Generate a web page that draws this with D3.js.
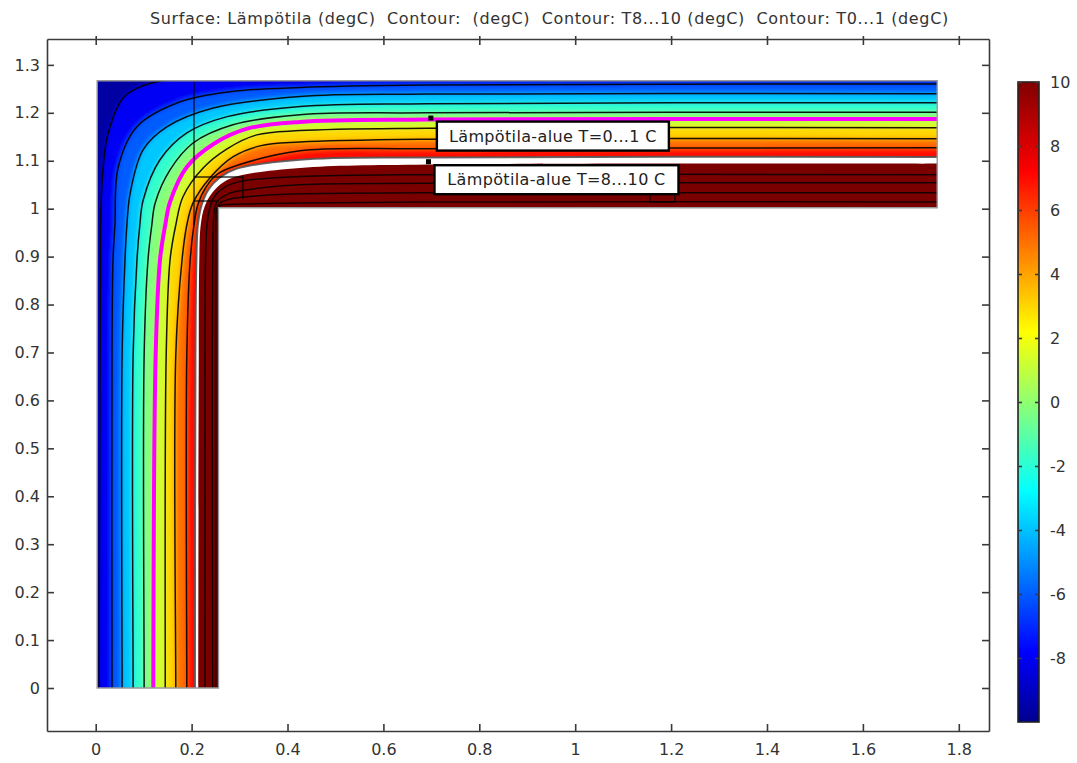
<!DOCTYPE html>
<html>
<head>
<meta charset="utf-8">
<script src="https://cdnjs.cloudflare.com/ajax/libs/d3/7.8.5/d3.min.js"></script>
<style>
body { margin: 0; background: #fff; }
text { font-family: "DejaVu Sans", sans-serif; fill: #333; }
.tick text { font-size: 16px; }
.axis path, .axis line { stroke: #3a3a3a; stroke-width: 1.6; }
</style>
</head>
<body>
<script>
var titleText = "Surface: Lämpötila (degC)  Contour:  (degC)  Contour: T8...10 (degC)  Contour: T0...1 (degC)";

var xTicks = [0, 0.2, 0.4, 0.6, 0.8, 1, 1.2, 1.4, 1.6, 1.8];
var yTicks = [0, 0.1, 0.2, 0.3, 0.4, 0.5, 0.6, 0.7, 0.8, 0.9, 1, 1.1, 1.2, 1.3];
var colorTicks = [-8, -6, -4, -2, 0, 2, 4, 6, 8, 10];

// colour table of the temperature bar
var jetTemps = [-10, -7.8, -2.8, 2.2, 7.2, 10];
var jetColors = ["#00008f", "#0000ff", "#00ffff", "#ffff00", "#ff0000", "#800000"];

// isotherm levels, outer (cold) side to inner (warm) side
var isoLevels = [-9, -7, -5, -2.8, -0.8, 0.5, 2, 4, 6, 8, 10, 12, 14, 16, 18];

// isotherms, one row per level
var isoX = [
  [.007,.009,.010,.010,.015,.026,.057,.092,.140,.426,1.755],
  [.034,.034,.036,.040,.047,.086,.176,.280,.426,.691,1.755],
  [.055,.055,.061,.065,.072,.099,.149,.245,.426,.691,1.755],
  [.078,.078,.086,.092,.099,.134,.190,.274,.426,.691,1.755],
  [.101,.101,.109,.117,.124,.155,.203,.286,.426,.691,1.755],
  [.120,.125,.134,.145,.155,.190,.249,.316,.426,.691,1.755],
  [.145,.147,.155,.167,.182,.224,.274,.336,.426,.691,1.755],
  [.167,.167,.180,.190,.203,.238,.286,.343,.426,.691,1.755],
  [.190,.190,.197,.205,.213,.230,.255,.297,.426,.691,1.755],
  [.207,.208,.210,.213,.221,.236,.259,.293,.426,.691,1.755],
  [.214,.215,.216,.219,.227,.243,.268,.301,.426,.691,1.755],
  [.228,.228,.229,.232,.238,.247,.271,.307,.426,.691,1.755],
  [.244,.243,.244,.245,.247,.253,.276,.311,.426,.691,1.755],
  [.250,.250,.250,.250,.251,.257,.280,.316,.426,.691,1.755],
  [.254,.254,.254,.254,.254,.259,.284,.320,.426,.691,1.755]
];
var isoY = [
  [0,.695,.893,.966,1.081,1.158,1.231,1.254,1.267,1.269,1.269],
  [0,.695,.893,.966,1.087,1.171,1.223,1.244,1.253,1.258,1.260],
  [0,.695,.893,.966,1.033,1.123,1.171,1.210,1.234,1.239,1.240],
  [0,.695,.893,.966,1.018,1.102,1.158,1.192,1.213,1.219,1.221],
  [0,.695,.893,.966,1.012,1.081,1.137,1.175,1.196,1.200,1.201],
  [0,.695,.893,.966,1.014,1.087,1.137,1.167,1.181,1.186,1.187],
  [0,.695,.893,.966,1.025,1.085,1.125,1.154,1.163,1.168,1.169],
  [0,.695,.893,.966,1.012,1.064,1.108,1.131,1.139,1.145,1.146],
  [0,.695,.893,.966,1.008,1.045,1.073,1.091,1.121,1.125,1.127],
  [0,.695,.893,.966,1.008,1.041,1.065,1.083,1.102,1.107,1.108],
  [0,.695,.893,.966,1.004,1.033,1.056,1.069,1.085,1.092,1.094],
  [0,.695,.893,.966,1.002,1.025,1.046,1.058,1.067,1.071,1.071],
  [0,.695,.893,.966,.993,1.014,1.031,1.039,1.050,1.053,1.054],
  [0,.695,.893,.966,.993,1.010,1.020,1.025,1.031,1.033,1.033],
  [0,.695,.893,.966,.993,1.006,1.009,1.010,1.012,1.014,1.014]
];

// L shaped domain
var domainX = [.003, 1.755, 1.755, .256, .256, .003];
var domainY = [1.267, 1.267, 1.002, 1.002, 0, 0];

// thin subdomain lines
var boundaryX = [[.205,.205], [.205,.307,.307], [.205,.256], [1.156,1.156,1.208,1.208]];
var boundaryY = [[1.267,.966], [1.066,1.066,1.020], [1.016,1.016], [1.033,1.014,1.014,1.033]];

var labelText = ["Lämpötila-alue T=0...1 C", "Lämpötila-alue T=8...10 C"];
var labelX = [.699, .694];
var labelY = [1.189, 1.098];

var W = 1077, H = 763;
var frame = {left: 47, right: 989, top: 39, bottom: 731};

var svg = d3.select("body").append("svg").attr("width", W).attr("height", H);

var x = d3.scaleLinear().domain([-0.1016, 1.863]).range([frame.left, frame.right]);
var y = d3.scaleLinear().domain([-0.0897, 1.354]).range([frame.bottom, frame.top]);
var jet = d3.scaleLinear().domain(jetTemps).range(jetColors).clamp(true);

var defs = svg.append("defs");

defs.append("clipPath").attr("id", "shape")
  .append("polygon")
  .attr("points", d3.zip(domainX, domainY).map(function(d) { return x(d[0]) + "," + y(d[1]); }).join(" "));

function blurFilter(id, dev) {
  defs.append("filter").attr("id", id)
    .attr("filterUnits", "userSpaceOnUse")
    .attr("x", 0).attr("y", 0).attr("width", W).attr("height", H)
    .append("feGaussianBlur").attr("stdDeviation", dev);
}
blurFilter("soft", 2.6);
blurFilter("lineSoft", 0.5);

var contourLine = d3.line()
  .x(function(d) { return x(d[0]); })
  .y(function(d) { return y(d[1]); })
  .curve(d3.curveCatmullRom.alpha(0.5));

// run each isotherm a bit past the domain so that the clip cuts it
var isotherms = isoLevels.map(function(t, i) {
  var pts = d3.zip(isoX[i], isoY[i]);
  var last = pts[pts.length - 1];
  return {t: t, pts: [[pts[0][0], -0.1]].concat(pts, [[last[0] + 0.1, last[1]]])};
});

function regionPath(c) {
  return contourLine(c.pts) + "L" + x(1.95) + "," + y(-0.1) + "Z";
}

var field = svg.append("g").attr("clip-path", "url(#shape)");

// colour bands, blurred together into the smooth surface
var bands = field.append("g").attr("filter", "url(#soft)");
bands.append("rect").attr("width", W).attr("height", H).attr("fill", jet(-9.6));
bands.selectAll("path")
  .data(isotherms.slice(0, 9))
  .enter().append("path")
  .attr("d", regionPath)
  .attr("fill", function(d, i) { return jet((d.t + isoLevels[i + 1]) / 2); });

// T=8...10 stays white, above that the scale is saturated
field.append("path").attr("d", regionPath(isotherms[9])).attr("fill", "#fff");
field.append("path").attr("d", regionPath(isotherms[10])).attr("fill", "#7a0000");

var lines = field.append("g").attr("fill", "none").attr("filter", "url(#lineSoft)");

lines.selectAll("path.iso")
  .data(isotherms.filter(function(d) { return d.t != 0.5 && d.t != 10; }))
  .enter().append("path")
  .attr("class", "iso")
  .attr("d", function(d) { return contourLine(d.pts); })
  .attr("stroke", function(d) { return d.t == 8 ? "#555" : "#000"; })
  .attr("stroke-width", function(d) { return d.t == 8 ? 2 : 1.5; })
  .attr("stroke-opacity", function(d) { return d.t > 8 ? 0.8 : 0.9; });

lines.append("path")
  .attr("d", contourLine(isotherms[5].pts))
  .attr("stroke", "#ff00ff")
  .attr("stroke-width", 4);

boundaryX.forEach(function(bx, i) {
  lines.append("path")
    .attr("d", d3.line().x(function(d) { return x(d[0]); }).y(function(d) { return y(d[1]); })(d3.zip(bx, boundaryY[i])))
    .attr("stroke", "#000")
    .attr("stroke-opacity", 0.8)
    .attr("stroke-width", 1.4);
});

// outline of the domain
svg.append("polygon")
  .attr("points", d3.zip(domainX, domainY).map(function(d) { return x(d[0]) + "," + y(d[1]); }).join(" "))
  .attr("fill", "none")
  .attr("stroke", "#999")
  .attr("stroke-width", 1.4);

// annotation boxes
var labelW = [232, 244], labelOffX = [6, 6], labelOffY = [3.5, 3.5], labelH = 29;
labelText.forEach(function(t, i) {
  var px = x(labelX[i]), py = y(labelY[i]);
  svg.append("rect").attr("x", px - 2.5).attr("y", py - 2.5).attr("width", 5).attr("height", 5).attr("fill", "#000");
  svg.append("rect")
    .attr("x", px + labelOffX[i]).attr("y", py + labelOffY[i])
    .attr("width", labelW[i]).attr("height", labelH)
    .attr("fill", "#fff").attr("stroke", "#000").attr("stroke-width", 2.4);
  svg.append("text")
    .attr("x", px + labelOffX[i] + labelW[i] / 2).attr("y", py + labelOffY[i] + 20)
    .attr("text-anchor", "middle")
    .style("font-size", "16px")
    .style("letter-spacing", "0.35px")
    .style("fill", "#222")
    .text(t);
});

// axes, ticks point inwards on all four sides
var tickLen = 7;
svg.append("g").attr("class", "axis")
  .attr("transform", "translate(0," + frame.bottom + ")")
  .call(d3.axisBottom(x).tickValues(xTicks).tickSizeInner(-tickLen).tickSizeOuter(0).tickPadding(13).tickFormat(String));
svg.append("g").attr("class", "axis")
  .attr("transform", "translate(0," + frame.top + ")")
  .call(d3.axisTop(x).tickValues(xTicks).tickSizeInner(-tickLen).tickSizeOuter(0).tickFormat(""))
  .selectAll(".tick line").attr("y1", -3).attr("y2", 6);
svg.append("g").attr("class", "axis")
  .attr("transform", "translate(" + frame.left + ",0)")
  .call(d3.axisLeft(y).tickValues(yTicks).tickSizeInner(-tickLen).tickSizeOuter(0).tickPadding(7).tickFormat(String));
svg.append("g").attr("class", "axis")
  .attr("transform", "translate(" + frame.right + ",0)")
  .call(d3.axisRight(y).tickValues(yTicks).tickSizeInner(-tickLen).tickSizeOuter(0).tickFormat(""));

svg.append("text")
  .attr("x", 150).attr("y", 24)
  .style("font-size", "16px")
  .style("letter-spacing", "0.64px")
  .style("white-space", "pre")
  .text(titleText);

// colour bar
var bar = {left: 1018, right: 1039, top: 82, bottom: 722};
var c = d3.scaleLinear().domain([-10, 10]).range([bar.bottom, bar.top]);

var grad = defs.append("linearGradient").attr("id", "jetBar")
  .attr("x1", 0).attr("y1", 1).attr("x2", 0).attr("y2", 0);
grad.selectAll("stop").data(jetTemps).enter().append("stop")
  .attr("offset", function(d) { return (d + 10) / 20; })
  .attr("stop-color", function(d, i) { return jetColors[i]; });

svg.append("rect")
  .attr("x", bar.left).attr("y", bar.top)
  .attr("width", bar.right - bar.left).attr("height", bar.bottom - bar.top)
  .attr("fill", "url(#jetBar)")
  .attr("stroke", "#222").attr("stroke-width", 1.6);

var barAxis = svg.append("g").attr("class", "axis")
  .attr("transform", "translate(" + bar.right + ",0)")
  .call(d3.axisRight(c).tickValues(colorTicks).tickSizeInner(-4).tickSizeOuter(0).tickPadding(11).tickFormat(String));
barAxis.select(".domain").remove();
svg.append("g").attr("class", "axis")
  .attr("transform", "translate(" + bar.left + ",0)")
  .call(d3.axisLeft(c).tickValues(colorTicks).tickSizeInner(-4).tickSizeOuter(0).tickFormat(""))
  .select(".domain").remove();
</script>
</body>
</html>
